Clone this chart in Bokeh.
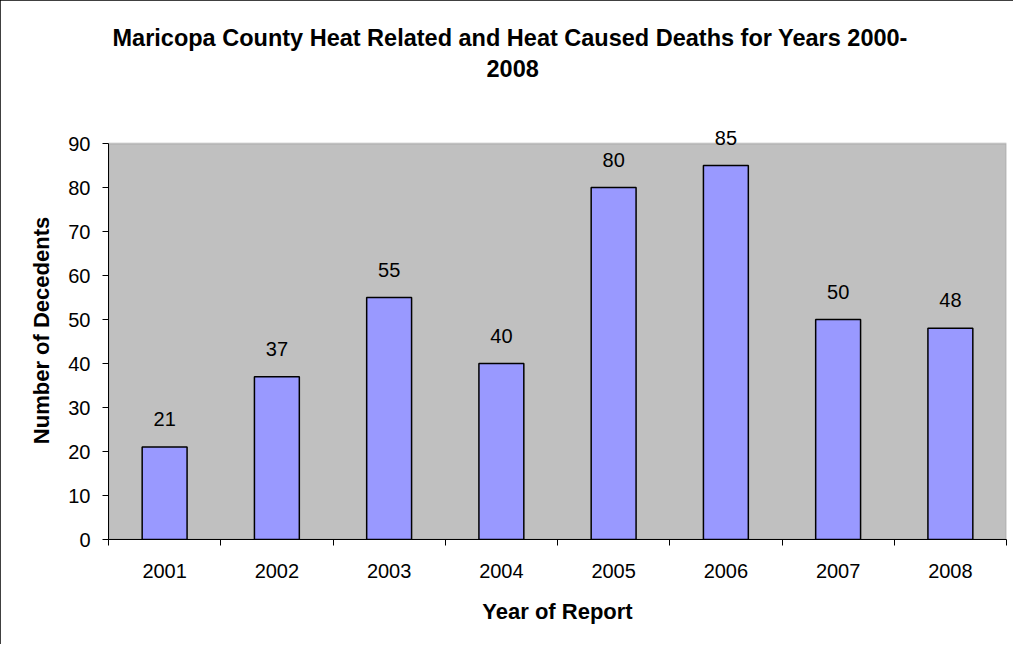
from bokeh.plotting import figure
from bokeh.models import FixedTicker, Label, Title, Range1d, ColumnDataSource, BoxAnnotation
from bokeh.embed import file_html
from bokeh.resources import INLINE

years = ["2001", "2002", "2003", "2004", "2005", "2006", "2007", "2008"]
deaths = [21, 37, 55, 40, 80, 85, 50, 48]
y_ticks = [0, 10, 20, 30, 40, 50, 60, 70, 80, 90]
y_max = 90

title_line1 = "Maricopa County Heat Related and Heat Caused Deaths for Years 2000-"
title_line2 = "2008"
x_label = "Year of Report"
y_label = "Number of Decedents"

FONT = "Liberation Sans"

xs = list(range(1, len(years) + 1))
source = ColumnDataSource(dict(x=xs, top=deaths))

# the frame extends a little above y_max so the value labels are not clipped;
# the grey plot area itself stops at y_max
p = figure(width=1013, height=644, output_backend="svg", toolbar_location=None,
           x_range=Range1d(0.5, len(years) + 0.5), y_range=Range1d(0, y_max + 5),
           min_border_left=108, min_border_right=7, min_border_top=121,
           min_border_bottom=105)

p.background_fill_color = "white"
p.border_fill_color = "white"
p.outline_line_color = None
p.xgrid.visible = False
p.ygrid.visible = False

plot_area = BoxAnnotation(bottom=0, top=y_max, fill_color="#C0C0C0", fill_alpha=1.0,
                          line_color="#808080", line_width=2, level="underlay")
p.add_layout(plot_area)

p.vbar(x="x", top="top", width=0.4, bottom=0, source=source,
       fill_color="#9999FF", line_color="black", line_width=1.5)

for xv, v in zip(xs, deaths):
    p.add_layout(Label(x=xv, y=v, text=str(v), y_offset=28,
                       text_align="center", text_baseline="middle",
                       text_font=FONT, text_font_size="20px", text_color="black"))

# x axis
xa = p.xaxis[0]
xa.ticker = FixedTicker(ticks=xs, minor_ticks=[i + 0.5 for i in range(0, len(years) + 1)])
xa.major_label_overrides = {x: y for x, y in zip(xs, years)}
xa.major_tick_out = 0
xa.major_tick_in = 0
xa.minor_tick_out = 6
xa.minor_tick_in = 0
xa.minor_tick_line_color = "black"
xa.axis_line_color = "black"
xa.major_label_standoff = 18
xa.major_label_text_font = FONT
xa.major_label_text_font_size = "20px"
xa.major_label_text_color = "black"
xa.axis_label = x_label
xa.axis_label_text_font = FONT
xa.axis_label_text_font_style = "bold"
xa.axis_label_text_font_size = "22px"
xa.axis_label_text_color = "black"
xa.axis_label_standoff = 18

# y axis
ya = p.yaxis[0]
ya.ticker = FixedTicker(ticks=y_ticks)
ya.bounds = (0, y_max)
ya.major_tick_out = 6
ya.major_tick_in = 0
ya.minor_tick_out = 0
ya.minor_tick_in = 0
ya.major_tick_line_color = "black"
ya.axis_line_color = "black"
ya.major_label_standoff = 12
ya.major_label_text_font = FONT
ya.major_label_text_font_size = "20px"
ya.major_label_text_color = "black"
ya.axis_label = y_label
ya.axis_label_text_font = FONT
ya.axis_label_text_font_style = "bold"
ya.axis_label_text_font_size = "22px"
ya.axis_label_text_color = "black"
ya.axis_label_standoff = 11

# two-line title (spacer keeps the gap above the plot area)
spacer = Title(text=" ", text_font=FONT, text_font_size="22px", standoff=16)
t2 = Title(text=title_line2, align="left", offset=378, text_font=FONT,
           text_font_style="bold", text_font_size="23.5px", text_color="black", standoff=4)
t1 = Title(text=title_line1, align="left", offset=4, text_font=FONT,
           text_font_style="bold", text_font_size="23.5px", text_color="black", standoff=10)
p.add_layout(spacer, "above")
p.add_layout(t2, "above")
p.add_layout(t1, "above")

p.styles = {"outline": "1px solid black", "outline-offset": "-1px"}

open("out.html", "w").write(file_html(p, INLINE))
